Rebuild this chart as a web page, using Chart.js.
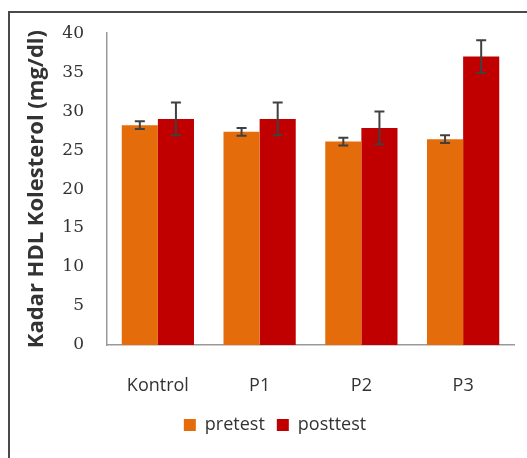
<!DOCTYPE html>
<html>
<head>
<meta charset="utf-8">
<script src="https://cdn.jsdelivr.net/npm/chart.js@4"></script>
<style>
  html, body { margin: 0; padding: 0; background: #fff; overflow: hidden; }
  body { width: 527px; height: 458px; position: relative; }
  #frame { position: absolute; left: 8px; top: 11px; width: 700px; height: 700px; border: 2px solid #4a4a4a; }
  #wrap { position: absolute; left: 0; top: 0; width: 527px; height: 458px; }
</style>
</head>
<body>
<div id="frame"></div>
<div id="wrap"><canvas id="chart"></canvas></div>
<script>
// data
const groups = ["Kontrol", "P1", "P2", "P3"];
const pretest = [28.2, 27.35, 26.1, 26.4];
const posttest = [29.0, 29.0, 27.85, 37.0];
const pretestErr = [0.5, 0.5, 0.5, 0.5];
const posttestErr = [2.1, 2.1, 2.1, 2.1];
const yTicks = [0, 5, 10, 15, 20, 25, 30, 35, 40];

const errors = [pretestErr, posttestErr];

// error bars, drawn through the y scale
const errorBars = {
  id: "errorBars",
  afterDatasetsDraw(chart) {
    const ctx = chart.ctx;
    const y = chart.scales.y;
    ctx.save();
    ctx.strokeStyle = "#404040";
    ctx.lineWidth = 2;
    chart.data.datasets.forEach((ds, i) => {
      const meta = chart.getDatasetMeta(i);
      meta.data.forEach((bar, j) => {
        const v = ds.data[j];
        const e = errors[i][j];
        const top = y.getPixelForValue(v + e);
        const bot = y.getPixelForValue(v - e);
        ctx.beginPath();
        ctx.moveTo(bar.x, top); ctx.lineTo(bar.x, bot);
        ctx.moveTo(bar.x - 5, top); ctx.lineTo(bar.x + 5, top);
        ctx.moveTo(bar.x - 5, bot); ctx.lineTo(bar.x + 5, bot);
        ctx.stroke();
      });
    });
    ctx.restore();
  }
};

new Chart(document.getElementById("chart"), {
  type: "bar",
  data: {
    labels: groups,
    datasets: [
      { label: "pretest", data: pretest, backgroundColor: "#E46C0A" },
      { label: "posttest", data: posttest, backgroundColor: "#C00000" }
    ]
  },
  options: {
    responsive: true,
    maintainAspectRatio: false,
    animation: false,
    devicePixelRatio: 1,
    layout: { padding: { left: 36, right: 13, top: 33, bottom: 14 } },
    datasets: { bar: { categoryPercentage: 0.71, barPercentage: 1 } },
    scales: {
      x: {
        grid: { display: false, drawTicks: false },
        border: { display: true, color: "#999", width: 1.5 },
        ticks: { padding: 30, color: "#333", font: { family: "Open Sans", size: 18 } },
        afterFit(scale) { scale.height = 59; }
      },
      y: {
        min: 0, max: 40,
        afterBuildTicks(scale) { scale.ticks = yTicks.map(v => ({ value: v })); },
        grid: { display: false, drawTicks: false },
        border: { display: true, color: "#999", width: 1.5 },
        ticks: { padding: 23, color: "#333", font: { family: "DejaVu Serif", size: 17 } },
        title: {
          display: true,
          text: "Kadar HDL Kolesterol (mg/dl)",
          color: "#333",
          font: { family: "Open Sans", size: 22, weight: "bold" },
          padding: { top: -12, bottom: 0 }
        },
        afterFit(scale) { scale.width = 71; }
      }
    },
    plugins: {
      legend: {
        position: "bottom",
        labels: {
          boxWidth: 12, boxHeight: 12, padding: 12,
          color: "#333",
          font: { family: "Open Sans", size: 18 }
        }
      },
      tooltip: { enabled: false }
    }
  },
  plugins: [errorBars]
});
</script>
</body>
</html>
